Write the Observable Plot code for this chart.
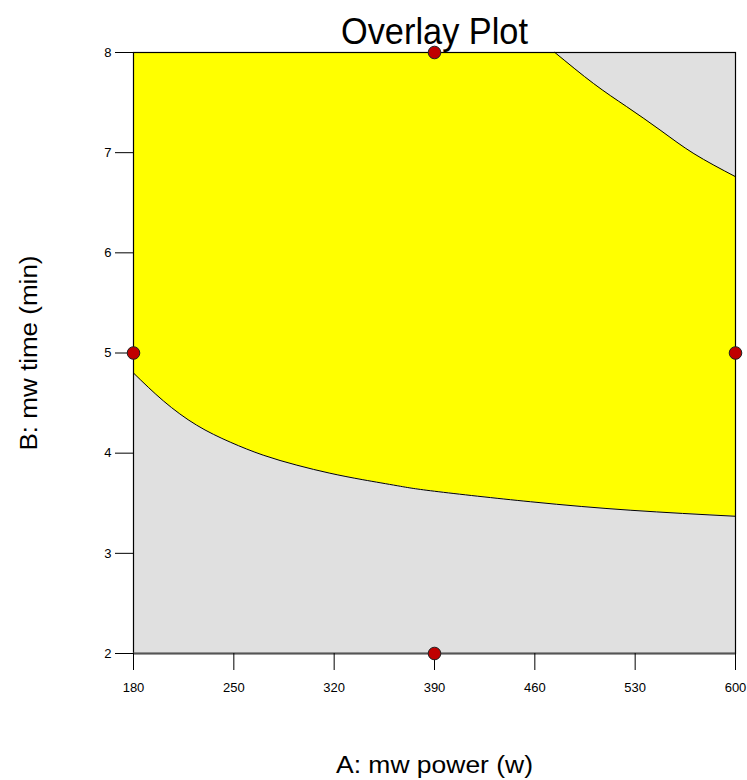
<!DOCTYPE html>
<html>
<head>
<meta charset="utf-8">
<script src="https://cdn.jsdelivr.net/npm/d3@7"></script>
<script src="https://cdn.jsdelivr.net/npm/@observablehq/plot@0.6"></script>
<style>
  html, body { margin: 0; padding: 0; background: #fff; }
  #chart svg { display: block; }
</style>
</head>
<body>
<div id="chart"></div>
<script>
// Lower boundary of the overlay (yellow) region
const lowerA = [180, 201, 224, 247.5, 270.5, 294, 317, 340, 364, 390, 457, 527, 600];
const lowerB = [4.80, 4.52, 4.28, 4.11, 3.98, 3.88, 3.80, 3.735, 3.675, 3.62, 3.515, 3.43, 3.37];
// Upper boundary (top-right grey region)
const upperA = [474, 501, 524, 548, 571, 600];
const upperB = [8, 7.69, 7.46, 7.22, 6.99, 6.76];
// Design points
const ptA = [390, 180, 600, 390];
const ptB = [8, 5, 5, 2];
// Ticks
const xTicks = [180, 250, 320, 390, 460, 530, 600];
const yTicks = [2, 3, 4, 5, 6, 7, 8];
const xDomain = [180, 600];
const yDomain = [2, 8];
const titleText = "Overlay Plot";
const xLabel = "A: mw power (w)";
const yLabel = "B: mw time (min)";

const lower = lowerA.map((a, i) => ({a, b: lowerB[i]}));
const upper = upperA.map((a, i) => ({a, b: upperB[i]}));
const pts = ptA.map((a, i) => ({a, b: ptB[i]}));

const font = "'Liberation Sans', Arial, Helvetica, sans-serif";
const curve = "natural";

const chart = Plot.plot({
  width: 747,
  height: 780,
  marginLeft: 133,
  marginRight: 12,
  marginTop: 52,
  marginBottom: 127,
  style: {fontFamily: font, fontSize: "13px", color: "#000", background: "#fff"},
  x: {domain: xDomain, label: null},
  y: {domain: yDomain, label: null},
  marks: [
    Plot.frame({fill: "#E0E0E0"}),
    Plot.areaY(lower, {x: "a", y1: "b", y2: yDomain[1], fill: "#FFFF00", curve}),
    Plot.areaY(upper, {x: "a", y1: "b", y2: yDomain[1], fill: "#E0E0E0", curve}),
    Plot.line(lower, {x: "a", y: "b", stroke: "#000", strokeWidth: 1, curve}),
    Plot.line(upper, {x: "a", y: "b", stroke: "#000", strokeWidth: 1, curve}),
    Plot.frame({stroke: "#000", strokeWidth: 1.2}),
    Plot.ruleY([yDomain[0]], {stroke: "#555", strokeWidth: 2}),
    Plot.axisY({ticks: yTicks, tickSize: 18, tickPadding: 4, fontSize: 13, label: null, tickFormat: d => d}),
    Plot.axisX({ticks: xTicks, tickSize: 17, tickPadding: 12, fontSize: 13, label: null, tickFormat: d => d}),
    Plot.dot(pts, {x: "a", y: "b", r: 6.3, fill: "#C00000", stroke: "#222", strokeWidth: 1}),
    Plot.text([titleText], {text: d => d, frameAnchor: "top", lineAnchor: "middle", textAnchor: "middle", dy: -20, fontSize: 37, fill: "#000"}),
    Plot.text([xLabel], {text: d => d, frameAnchor: "bottom", lineAnchor: "middle", textAnchor: "middle", dy: 112, fontSize: 23, fill: "#000"}),
    Plot.text([yLabel], {text: d => d, frameAnchor: "left", lineAnchor: "middle", textAnchor: "middle", dx: -104, rotate: -90, fontSize: 23, fill: "#000"})
  ]
});
document.getElementById("chart").appendChild(chart);

// Match the reference text widths
const widths = {[titleText]: 187, [xLabel]: 197, [yLabel]: 195};
chart.querySelectorAll("text").forEach(t => {
  const w = widths[t.textContent];
  if (w) {
    t.setAttribute("textLength", w);
    t.setAttribute("lengthAdjust", "spacingAndGlyphs");
  }
});
</script>
</body>
</html>
